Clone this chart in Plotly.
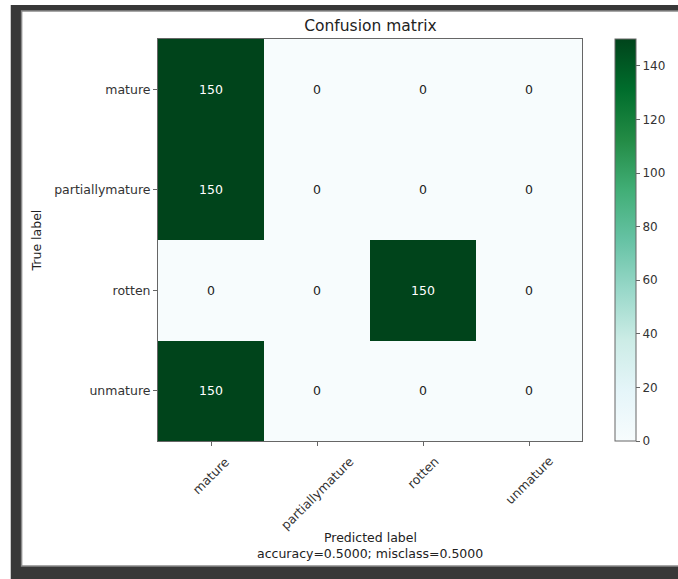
import plotly.graph_objects as go

# ---- data ----
true_labels = ["mature", "partiallymature", "rotten", "unmature"]
pred_labels = ["mature", "partiallymature", "rotten", "unmature"]
counts = [
    [150, 0, 0, 0],
    [150, 0, 0, 0],
    [0, 0, 150, 0],
    [150, 0, 0, 0],
]
title_text = "Confusion matrix"
xlabel_text = "Predicted label"
stats_text = "accuracy=0.5000; misclass=0.5000"
ylabel_text = "True label"
cbar_ticks = [0, 20, 40, 60, 80, 100, 120, 140]

# ---- layout geometry (pixels) ----
W, H = 678, 579
PL, PR, PT, PB = 158, 587, 39, 441  # plot area edges


def px_x(px):
    return (px - PL) / (PR - PL)


def px_y(py):
    return (PB - py) / (PB - PT)


FONT = "DejaVu Sans"
TXT = "#333333"
DARK = "#222222"
GRID = "#666666"
FS = 12.5

fig = go.Figure()
fig.add_trace(go.Heatmap(
    z=counts,
    x=pred_labels,
    y=true_labels,
    zmin=0,
    zmax=150,
    colorscale="BuGn",
    showscale=True,
    colorbar=dict(
        x=px_x(620), xanchor="left", xref="paper",
        y=0.5, yanchor="middle", len=1, lenmode="fraction",
        thickness=21, thicknessmode="pixels",
        xpad=0, ypad=0,
        outlinewidth=1, outlinecolor=GRID,
        tickvals=cbar_ticks,
        ticks="outside", ticklen=4, tickcolor=GRID,
        tickfont=dict(family=FONT, size=12, color=TXT),
    ),
    hoverongaps=False,
))

thresh = max(max(r) for r in counts) / 2
for i, row in enumerate(counts):
    for j, v in enumerate(row):
        fig.add_annotation(
            x=pred_labels[j], y=true_labels[i], text=str(v), showarrow=False,
            font=dict(family=FONT, size=FS, color="white" if v > thresh else DARK),
        )

# rotated x tick labels, centred under each tick (matplotlib style)
for lab in pred_labels:
    fig.add_annotation(
        x=lab, xref="x", y=px_y(451), yref="paper",
        text=lab, textangle=-45, showarrow=False,
        xanchor="center", yanchor="top",
        font=dict(family=FONT, size=FS, color=TXT),
    )

# axis labels
fig.add_annotation(
    x=0.5, y=px_y(537), xref="paper", yref="paper",
    text=xlabel_text, showarrow=False, borderpad=0,
    font=dict(family=FONT, size=FS, color=DARK),
    xanchor="center", yanchor="middle",
)
fig.add_annotation(
    x=0.5, y=px_y(553), xref="paper", yref="paper",
    text=stats_text, showarrow=False, borderpad=0,
    font=dict(family=FONT, size=FS, color=DARK),
    xanchor="center", yanchor="middle",
)
fig.add_annotation(
    x=px_x(35), y=0.5, xref="paper", yref="paper",
    text=ylabel_text, textangle=-90, showarrow=False,
    xanchor="center", yanchor="middle",
    font=dict(family=FONT, size=FS, color=DARK),
)

# frame shapes (dark border around white canvas)
fig.add_shape(type="rect", xref="paper", yref="paper",
              x0=px_x(9), x1=px_x(690), y0=px_y(5), y1=px_y(590),
              fillcolor="#383838", line=dict(width=0), layer="below")
fig.add_shape(type="rect", xref="paper", yref="paper",
              x0=px_x(20), x1=px_x(690), y0=px_y(11), y1=px_y(566),
              fillcolor="white", line=dict(width=1.5, color="#8a8a8a"), layer="below")

fig.update_layout(
    width=W, height=H,
    margin=dict(l=PL, r=W - PR, t=PT, b=H - PB, pad=0),
    paper_bgcolor="white",
    plot_bgcolor="white",
    title=dict(text=title_text, x=px_x(373), xref="paper", xanchor="center",
               y=1 - 26 / H, yanchor="middle",
               font=dict(family=FONT, size=15.5, color=DARK)),
    font=dict(family=FONT, size=FS, color=TXT),
    xaxis=dict(
        ticks="outside", ticklen=4, tickcolor=GRID, showticklabels=False,
        showline=True, linecolor=GRID, linewidth=1, mirror=True,
        showgrid=False, zeroline=False,
    ),
    yaxis=dict(
        autorange="reversed", ticks="outside", ticklen=4, tickcolor=GRID,
        showline=True, linecolor=GRID, linewidth=1, mirror=True,
        showgrid=False, zeroline=False,
        tickfont=dict(family=FONT, size=FS, color=TXT),
    ),
)

fig.write_html(
    "out.html",
    config={"displayModeBar": False},
    post_script="document.body.style.margin='0';document.body.style.overflow='hidden';",
)
